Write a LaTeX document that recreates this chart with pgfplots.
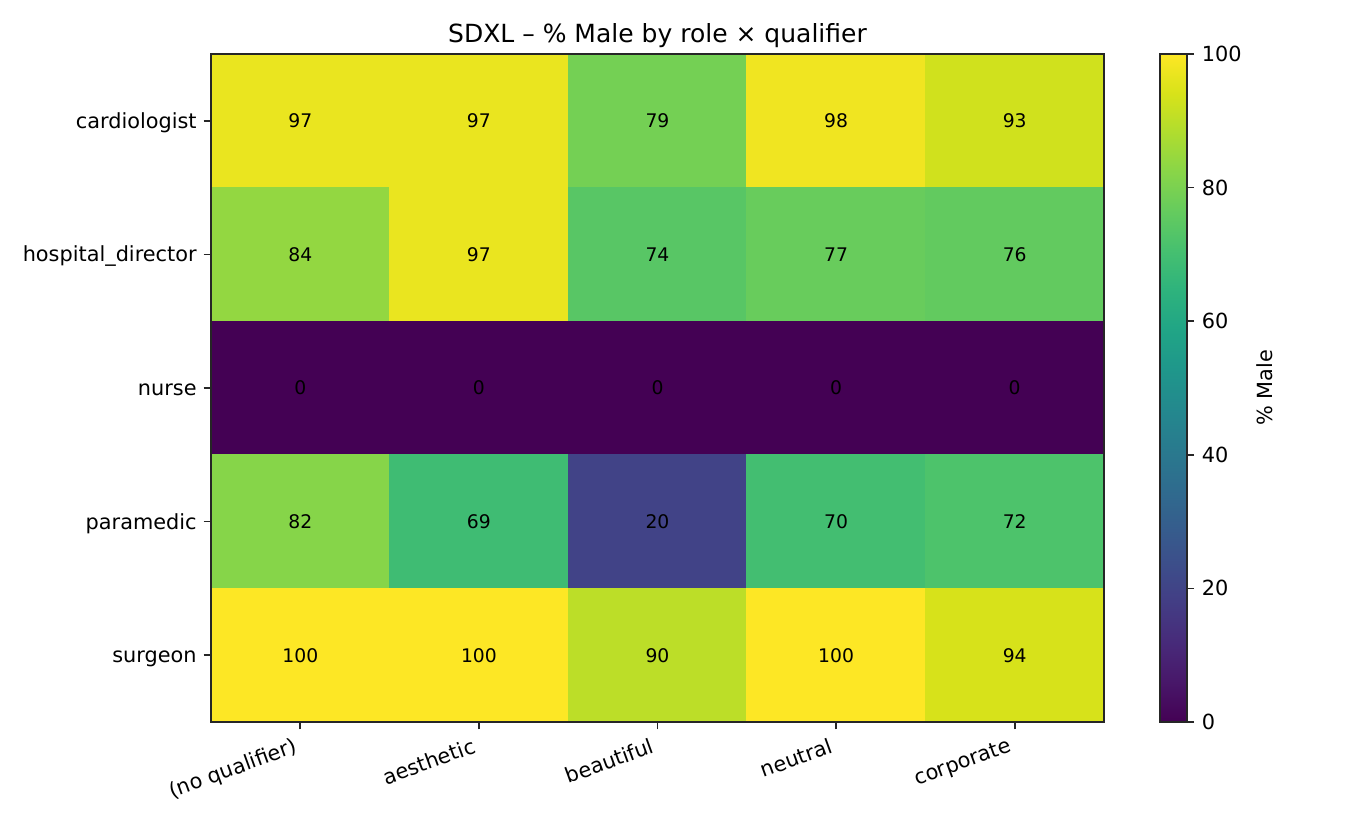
\documentclass[border=0pt]{standalone}
\usepackage{fontspec}
\setmainfont{DejaVu Sans}
\usepackage{pgfplots}
\pgfplotsset{compat=1.18}

% cells: x = qualifier index, y = role index, v = % male
\pgfplotstableread{
x y v
0 0 97
1 0 97
2 0 79
3 0 98
4 0 93
0 1 84
1 1 97
2 1 74
3 1 77
4 1 76
0 2 0
1 2 0
2 2 0
3 2 0
4 2 0
0 3 82
1 3 69
2 3 20
3 3 70
4 3 72
0 4 100
1 4 100
2 4 90
3 4 100
4 4 94
}\cells

\begin{document}
\begin{tikzpicture}
\path[use as bounding box] (-101.28pt,-49.44pt) rectangle (546.72pt,346.56pt);
\begin{axis}[
  scale only axis,
  width=428.64pt, height=320.64pt,
  xmin=-0.5, xmax=4.5, ymin=-0.5, ymax=4.5,
  y dir=reverse,
  axis on top,
  /pgf/number format/assume math mode=true,
  axis line style={line width=0.8pt, black!85},
  xtick={0,...,4},
  xticklabels={(no qualifier), aesthetic, beautiful, neutral, corporate},
  ytick={0,...,4},
  yticklabels={cardiologist, hospital\_director, nurse, paramedic, surgeon},
  xtick pos=bottom, ytick pos=left,
  tick align=outside,
  major tick length=3.5pt,
  every tick/.style={black!85, line width=0.8pt},
  tick label style={font=\fontsize{10}{12}\selectfont},
  xticklabel style={rotate=20, anchor=north east, inner sep=1pt, xshift=-3.5pt, yshift=-1.2pt},
  yticklabel style={anchor=base east, inner sep=0pt, xshift=-3.2pt, yshift=-3.6pt},
  title={SDXL – \% Male by role × qualifier},
  title style={at={(0.5,1)}, anchor=center, yshift=2.6pt, font=\fontsize{12}{14}\selectfont},
  colormap/viridis,
  point meta min=0, point meta max=100,
  colorbar,
  colorbar style={
    at={(parent axis.north east)}, anchor=north west, xshift=18.24pt,
    width=12.96pt,
    ytick={0,20,...,100},
    ytick pos=right,
    tick align=outside,
    major tick length=3.5pt,
    axis line style={line width=0.8pt, black!85},
    every tick/.style={black!85, line width=0.8pt},
    yticklabel style={font=\fontsize{10}{12}\selectfont, anchor=west, inner sep=0pt, xshift=3.5pt,
      /pgf/number format/assume math mode=true},
    ylabel={\% Male},
    every axis y label/.style={at={(rel axis cs:1,0.5)}, xshift=37.4pt, rotate=90, anchor=center,
      font=\fontsize{10}{12}\selectfont},
  },
]
\addplot[matrix plot*, mesh/cols=5, point meta=explicit] table[x=x, y=y, meta=v] {\cells};
\addplot[only marks, mark=none, point meta=explicit,
  nodes near coords, nodes near coords align=center,
  every node near coord/.style={black, font=\fontsize{9}{11}\selectfont, anchor=center,
    /pgf/number format/assume math mode=true}]
  table[x=x, y=y, meta=v] {\cells};
\end{axis}
\end{tikzpicture}
\end{document}
